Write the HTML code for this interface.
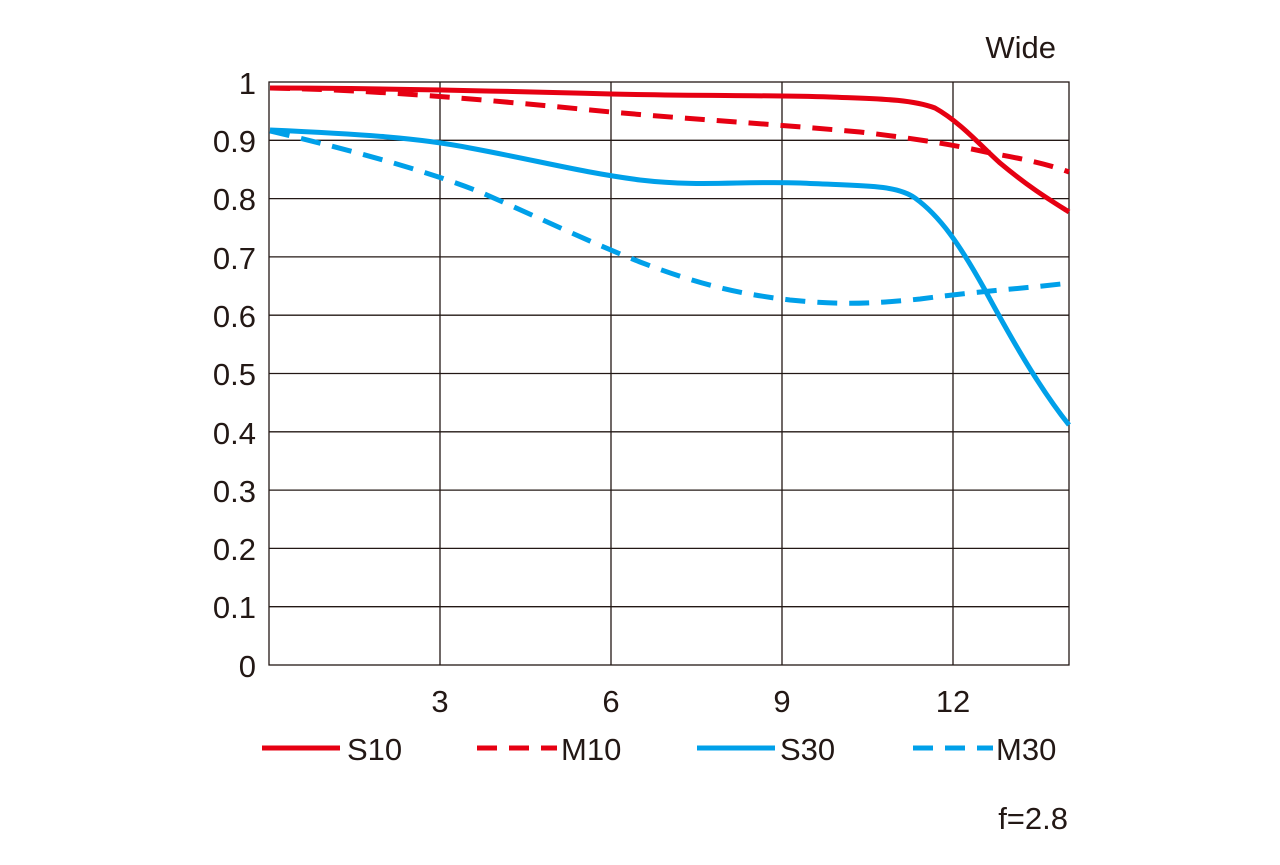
<!DOCTYPE html>
<html><head><style>body{margin:0;background:#fff}</style></head><body>
<svg width="1280" height="860" xmlns="http://www.w3.org/2000/svg" font-family="Liberation Sans, sans-serif" font-size="31" fill="#231815">
<g stroke="#231815" stroke-width="1.3" fill="none">
<rect x="269" y="82" width="800" height="583"/>
<line x1="269" y1="140.3" x2="1069" y2="140.3"/><line x1="269" y1="198.6" x2="1069" y2="198.6"/>
<line x1="269" y1="256.9" x2="1069" y2="256.9"/><line x1="269" y1="315.2" x2="1069" y2="315.2"/>
<line x1="269" y1="373.5" x2="1069" y2="373.5"/><line x1="269" y1="431.8" x2="1069" y2="431.8"/>
<line x1="269" y1="490.1" x2="1069" y2="490.1"/><line x1="269" y1="548.4" x2="1069" y2="548.4"/>
<line x1="269" y1="606.7" x2="1069" y2="606.7"/>
<line x1="440" y1="82" x2="440" y2="665"/><line x1="611" y1="82" x2="611" y2="665"/>
<line x1="782" y1="82" x2="782" y2="665"/><line x1="953" y1="82" x2="953" y2="665"/>
</g>
<g text-anchor="end">
<text x="256" y="94">1</text><text x="256" y="152">0.9</text><text x="256" y="210">0.8</text>
<text x="256" y="269">0.7</text><text x="256" y="327">0.6</text><text x="256" y="385">0.5</text>
<text x="256" y="444">0.4</text><text x="256" y="502">0.3</text><text x="256" y="560">0.2</text>
<text x="256" y="618">0.1</text><text x="256" y="677">0</text>
<text x="1056" y="58">Wide</text><text x="1068" y="829">f=2.8</text>
</g>
<g text-anchor="middle">
<text x="440" y="712">3</text><text x="611" y="712">6</text><text x="782" y="712">9</text><text x="953" y="712">12</text>
</g>
<g fill="none" stroke-width="5" stroke-linejoin="round">
<path stroke="#e60012" d="M270,88 C380,88 500,91 611,94 C700,96 760,95 830,97 C880,99 910,99 935,108 C960,122 980,145 1000,163 C1030,188 1050,200 1069,212"/>
<path stroke="#e60012" stroke-dasharray="20,12" d="M270,88 C360,90 440,95 611,112 C700,120 760,123 860,132 C920,139 960,146 990,153 C1030,160 1050,165 1069,172"/>
<path stroke="#00a0e9" d="M270,130 C360,134 420,138 470,148 C540,161 580,172 640,180 C700,187 740,181 800,183 C860,186 895,184 915,198 C940,216 960,245 985,290 C1020,355 1045,395 1069,425"/>
<path stroke="#00a0e9" stroke-dasharray="20,12" d="M270,131 C330,145 420,168 480,192 C540,218 580,238 640,262 C700,285 740,294 790,300 C840,305 870,304 920,299 C980,291 1030,288 1069,283"/>
<line stroke="#e60012" x1="262" y1="748" x2="340" y2="748"/>
<line stroke="#e60012" stroke-dasharray="20,12" x1="477" y1="748" x2="557" y2="748"/>
<line stroke="#00a0e9" x1="697" y1="748" x2="775" y2="748"/>
<line stroke="#00a0e9" stroke-dasharray="20,12" x1="913" y1="748" x2="993" y2="748"/>
</g>
<text x="347" y="760">S10</text><text x="561" y="760">M10</text><text x="780" y="760">S30</text><text x="996" y="760">M30</text>
</svg>
</body></html>
